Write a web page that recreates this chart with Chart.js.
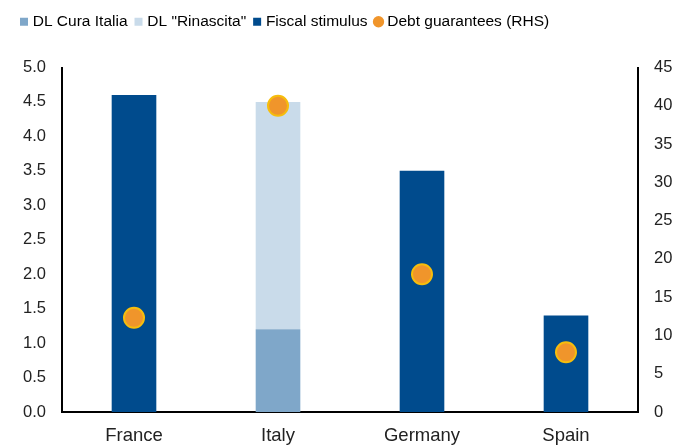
<!DOCTYPE html>
<html lang="en">

<head>
    <meta charset="UTF-8">
    <title>Fiscal measures</title>
    <script src="https://cdn.jsdelivr.net/npm/chart.js@4.4.0/dist/chart.umd.min.js"></script>
    <style>
        body { margin: 0; background: #fff; }
    </style>
</head>

<body>
    <canvas id="chart" width="697" height="446"></canvas>

    <script type="text/javascript">

        const countries = ["France", "Italy", "Germany", "Spain"];
        const curaItalia = [null, 1.2, null, null];
        const rinascita = [null, 3.3, null, null];
        const fiscalStimulus = [4.6, null, 3.5, 1.4];
        const debtGuarantees = [12.3, 40, 18, 7.8];

        const leftTicks = { min: 0, max: 5, step: 0.5 };
        const rightTicks = { min: 0, max: 45, step: 5 };

        Chart.defaults.font.family = "'Liberation Sans', Arial, sans-serif";
        Chart.defaults.font.size = 16;
        Chart.defaults.color = "#222";

        // push the plot down a bit under the legend
        const legendGap = {
            id: 'legendGap',
            beforeInit(chart) {
                const fit = chart.legend.fit;
                chart.legend.fit = function () {
                    fit.bind(chart.legend)();
                    this.height += 28;
                };
            }
        };

        const ctx = document.getElementById('chart').getContext('2d');
        const myChart = new Chart(ctx, {
            type: 'bar',
            data: {
                labels: countries,
                datasets: [{
                    label: 'DL Cura Italia',
                    data: curaItalia,
                    backgroundColor: '#7fa7c9',
                    stack: 's',
                    yAxisID: 'y',
                    order: 1
                }, {
                    label: 'DL "Rinascita"',
                    data: rinascita,
                    backgroundColor: '#c9dbea',
                    stack: 's',
                    yAxisID: 'y',
                    order: 1
                }, {
                    label: 'Fiscal stimulus',
                    data: fiscalStimulus,
                    backgroundColor: '#004b8d',
                    stack: 's',
                    yAxisID: 'y',
                    order: 1
                }, {
                    type: 'line',
                    label: 'Debt guarantees (RHS)',
                    data: debtGuarantees,
                    showLine: false,
                    pointRadius: 10,
                    pointHoverRadius: 10,
                    borderWidth: 2,
                    backgroundColor: '#f0952b',
                    borderColor: '#f6bd0c',
                    yAxisID: 'y1',
                    order: 0
                }]
            },
            plugins: [legendGap],
            options: {
                responsive: false,
                animation: false,
                layout: { padding: { left: 13, right: 0, top: 4, bottom: 0 } },
                datasets: {
                    bar: { barPercentage: 0.31, categoryPercentage: 1, grouped: false }
                },
                plugins: {
                    tooltip: { enabled: false },
                    legend: {
                        align: 'start',
                        labels: {
                            usePointStyle: true,
                            // narrow box so the marker sits close to its text
                            boxWidth: 2,
                            boxHeight: 8,
                            padding: 10,
                            font: { size: 15.5 },
                            sort: (a, b) => a.datasetIndex - b.datasetIndex,
                            generateLabels: function (chart) {
                                return chart.data.datasets.map((ds, i) => ({
                                    text: ds.label,
                                    fillStyle: ds.backgroundColor,
                                    strokeStyle: ds.backgroundColor,
                                    lineWidth: 0,
                                    pointStyle: ds.type === 'line' ? 'circle' : 'rect',
                                    datasetIndex: i,
                                    hidden: false
                                }));
                            }
                        }
                    }
                },
                scales: {
                    x: {
                        stacked: true,
                        grid: { display: false, drawTicks: false },
                        border: { display: true, color: '#000', width: 2 },
                        ticks: { padding: 13, font: { size: 18.5 } },
                        afterFit: (scale) => { scale.height = 34; }
                    },
                    y: {
                        stacked: true,
                        position: 'left',
                        min: leftTicks.min,
                        max: leftTicks.max,
                        grid: { display: false, drawTicks: false },
                        border: { display: true, color: '#000', width: 2 },
                        ticks: {
                            stepSize: leftTicks.step,
                            padding: 16,
                            font: { size: 16.5 },
                            callback: (v) => v.toFixed(1)
                        },
                        afterFit: (scale) => { scale.width = 49; }
                    },
                    y1: {
                        position: 'right',
                        min: rightTicks.min,
                        max: rightTicks.max,
                        grid: { display: false, drawTicks: false },
                        border: { display: true, color: '#000', width: 2 },
                        ticks: { stepSize: rightTicks.step, padding: 16, font: { size: 16.5 } },
                        afterFit: (scale) => { scale.width = 59; }
                    }
                }
            }
        });

    </script>

</body>

</html>
